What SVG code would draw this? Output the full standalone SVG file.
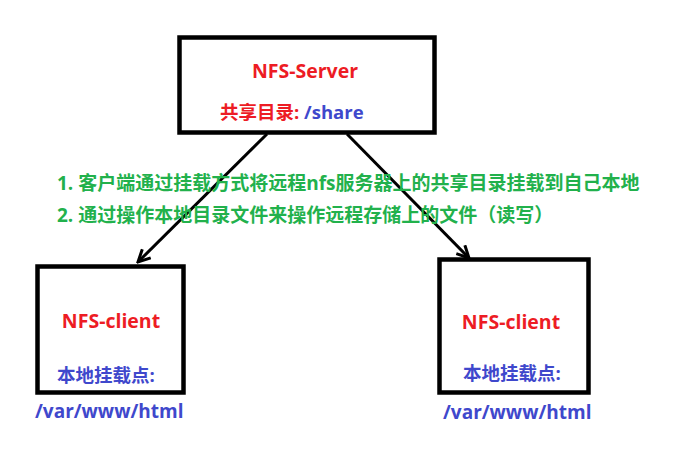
<svg xmlns="http://www.w3.org/2000/svg" width="686" height="469" viewBox="0 0 686 469">
<style>
.box{fill:none;stroke:#000;stroke-width:4.5}
.conn{stroke:#000;stroke-width:3;fill:none}
text{font-family:"Open Sans","Noto Sans CJK SC",sans-serif;font-weight:bold}
.red{fill:#ed1c24}
.blue{fill:#3f48cc}
.green{fill:#22b14c;font-size:19px}
</style>
<defs>
<marker id="arr" viewBox="0 0 10 10" refX="9" refY="5" markerWidth="5" markerHeight="5" orient="auto" markerUnits="strokeWidth">
<path d="M1,1 L9,5 L1,9" fill="none" stroke="#000" stroke-width="2"/>
</marker>
</defs>
<rect width="686" height="469" fill="#fff"/>
<g id="connectors">
<line class="conn" x1="267" y1="134" x2="138" y2="262" marker-end="url(#arr)"/>
<line class="conn" x1="347" y1="134" x2="469" y2="258" marker-end="url(#arr)"/>
</g>
<g id="server">
<rect class="box" x="179.5" y="37.5" width="255" height="95"/>
<text class="red" x="305" y="78" font-size="19.5" text-anchor="middle">NFS-Server</text>
<text x="220" y="119" font-size="18.5"><tspan class="red">共享目录: </tspan><tspan class="blue">/share</tspan></text>
</g>
<g id="notes">
<text class="green" x="57" y="190">1. 客户端通过挂载方式将远程nfs服务器上的共享目录挂载到自己本地</text>
<text class="green" x="57" y="222">2. 通过操作本地目录文件来操作远程存储上的文件（读写）</text>
</g>
<g id="client-left">
<rect class="box" x="37.5" y="266.5" width="146" height="126"/>
<text class="red" x="111" y="328" font-size="19.5" text-anchor="middle">NFS-client</text>
<text class="blue" x="57" y="382" font-size="18.5">本地挂载点:</text>
<text class="blue" x="35" y="418" font-size="19">/var/www/html</text>
</g>
<g id="client-right">
<rect class="box" x="439.5" y="259.5" width="149" height="133"/>
<text class="red" x="511" y="329" font-size="19.5" text-anchor="middle">NFS-client</text>
<text class="blue" x="463" y="380" font-size="18.5">本地挂载点:</text>
<text class="blue" x="443" y="419" font-size="19">/var/www/html</text>
</g>
</svg>
